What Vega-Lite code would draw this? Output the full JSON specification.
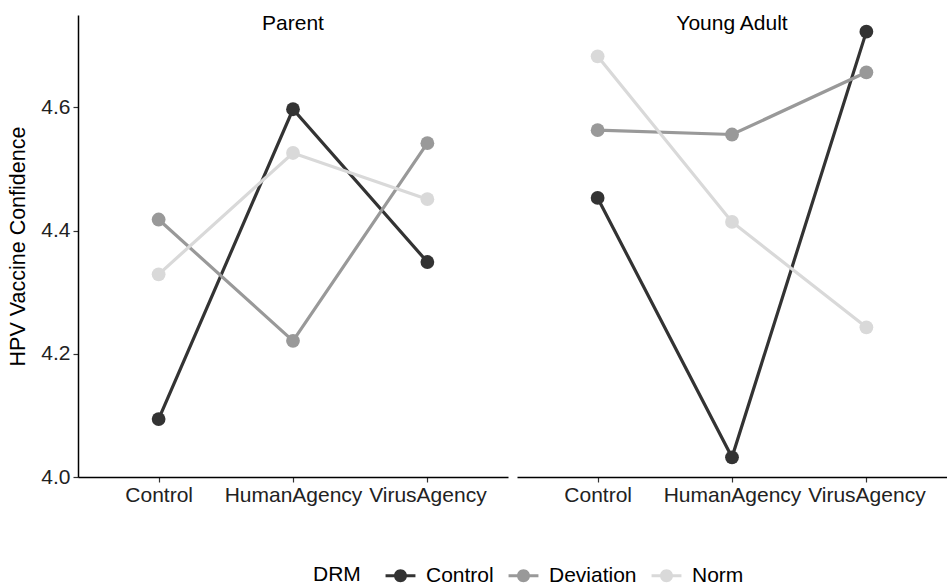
{
  "$schema": "https://vega.github.io/schema/vega-lite/v6.json",
  "padding": {"left": 7, "top": 13, "right": 0, "bottom": 5},
  "background": "white",
  "data": {
    "values": [
      {"panel": "Parent", "condition": "Control", "DRM": "Control", "value": 4.094},
      {"panel": "Parent", "condition": "HumanAgency", "DRM": "Control", "value": 4.597},
      {"panel": "Parent", "condition": "VirusAgency", "DRM": "Control", "value": 4.349},
      {"panel": "Parent", "condition": "Control", "DRM": "Deviation", "value": 4.418},
      {"panel": "Parent", "condition": "HumanAgency", "DRM": "Deviation", "value": 4.221},
      {"panel": "Parent", "condition": "VirusAgency", "DRM": "Deviation", "value": 4.542},
      {"panel": "Parent", "condition": "Control", "DRM": "Norm", "value": 4.329},
      {"panel": "Parent", "condition": "HumanAgency", "DRM": "Norm", "value": 4.526},
      {"panel": "Parent", "condition": "VirusAgency", "DRM": "Norm", "value": 4.451},
      {"panel": "Young Adult", "condition": "Control", "DRM": "Control", "value": 4.453},
      {"panel": "Young Adult", "condition": "HumanAgency", "DRM": "Control", "value": 4.032},
      {"panel": "Young Adult", "condition": "VirusAgency", "DRM": "Control", "value": 4.723},
      {"panel": "Young Adult", "condition": "Control", "DRM": "Deviation", "value": 4.563},
      {"panel": "Young Adult", "condition": "HumanAgency", "DRM": "Deviation", "value": 4.556},
      {"panel": "Young Adult", "condition": "VirusAgency", "DRM": "Deviation", "value": 4.657},
      {"panel": "Young Adult", "condition": "Control", "DRM": "Norm", "value": 4.683},
      {"panel": "Young Adult", "condition": "HumanAgency", "DRM": "Norm", "value": 4.414},
      {"panel": "Young Adult", "condition": "VirusAgency", "DRM": "Norm", "value": 4.243}
    ]
  },
  "facet": {
    "column": {
      "field": "panel",
      "type": "nominal",
      "sort": ["Parent", "Young Adult"],
      "title": null,
      "header": {
        "labelFontSize": 21,
        "labelFont": "Liberation Sans",
        "labelColor": "black",
        "labelPadding": -19
      }
    }
  },
  "spacing": 9,
  "spec": {
    "width": 430,
    "height": 462,
    "encoding": {
      "x": {
        "field": "condition",
        "type": "nominal",
        "sort": ["Control", "HumanAgency", "VirusAgency"],
        "scale": {"type": "point", "padding": 0.6},
        "axis": {"title": null, "labelAngle": 0, "labelPadding": 2, "tickSize": 5}
      },
      "y": {
        "field": "value",
        "type": "quantitative",
        "scale": {"domain": [4.0, 4.75], "nice": false, "zero": false},
        "axis": {
          "title": "HPV Vaccine Confidence",
          "values": [4.0, 4.2, 4.4, 4.6],
          "format": ".1f",
          "tickSize": 5,
          "labelPadding": 3,
          "titlePadding": 11
        }
      },
      "color": {
        "field": "DRM",
        "type": "nominal",
        "scale": {"domain": ["Control", "Deviation", "Norm"], "range": ["#333333", "#999999", "#d9d9d9"]},
        "legend": {
          "orient": "none",
          "legendX": 235,
          "legendY": 550,
          "direction": "horizontal",
          "titleOrient": "left",
          "titleBaseline": "middle",
          "title": "DRM",
          "symbolType": "M -2.3,-0.23 L 2.3,-0.23 L 2.3,0.23 L -2.3,0.23 Z M 1,0 A 1,1 0 1,1 -1,0 A 1,1 0 1,1 1,0 Z",
          "symbolSize": 169,
          "symbolStrokeWidth": 0,
          "symbolOpacity": 1,
          "labelFontSize": 21,
          "titleFontSize": 21,
          "titleFontWeight": "normal",
          "titlePadding": 29,
          "labelFont": "Liberation Sans",
          "titleFont": "Liberation Sans",
          "labelColor": "black",
          "titleColor": "black",
          "columnPadding": 14,
          "labelOffset": 15
        }
      }
    },
    "layer": [
      {"mark": {"type": "line", "strokeWidth": 3.2}},
      {"mark": {"type": "circle", "size": 190, "opacity": 1}}
    ]
  },
  "config": {
    "font": "Liberation Sans",
    "view": {"stroke": null},
    "axis": {
      "grid": false,
      "domainColor": "black",
      "domainWidth": 1.5,
      "tickColor": "#333333",
      "tickWidth": 1.2,
      "labelColor": "#222222",
      "labelFontSize": 21,
      "labelFont": "Liberation Sans",
      "titleFont": "Liberation Sans",
      "titleFontSize": 21.5,
      "titleFontWeight": "normal",
      "titleColor": "black"
    }
  }
}
